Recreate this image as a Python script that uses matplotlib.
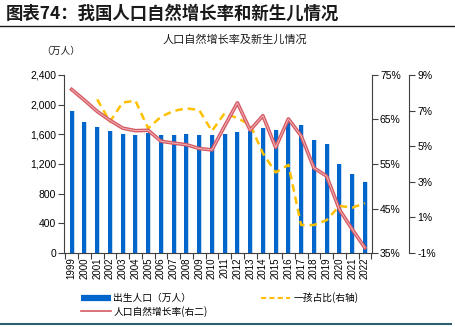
import numpy as np
import matplotlib
matplotlib.use("Agg")
import matplotlib.pyplot as plt
from matplotlib.lines import Line2D

plt.rcParams['font.family'] = ['Liberation Sans', 'Noto Sans CJK SC', 'DejaVu Sans']
cjk = ['Noto Sans CJK SC', 'DejaVu Sans']

years = [str(y) for y in range(1999, 2023)]
births = [1909, 1771, 1702, 1647, 1599, 1593, 1617, 1585, 1595, 1608, 1591, 1592,
          1604, 1635, 1640, 1687, 1655, 1786, 1723, 1523, 1465, 1202, 1062, 956]
growth = [8.18, 7.58, 6.95, 6.45, 6.01, 5.87, 5.89, 5.28, 5.17, 5.08, 4.87, 4.79,
          6.13, 7.43, 5.90, 6.71, 4.93, 6.53, 5.58, 3.78, 3.32, 1.45, 0.34, -0.70]
first_child = [np.nan, np.nan, 69.5, 64.5, 68.8, 69.2, 63.0, 65.6, 66.9, 67.5, 67.1, 62.4,
               66.4, 65.3, 63.8, 57.4, 53.1, 54.8, 41.3, 41.3, 42.4, 45.6, 45.2, 46.2]

x = np.arange(len(years))
blue = '#0066cc'
yellow = '#ffc000'
axis_col = '#404040'

fig = plt.figure(figsize=(4.56, 3.27), dpi=100)
ax = fig.add_axes([0.141, 0.226, 0.674, 0.545])

# bars with a light right edge
ax.bar(x + 0.04, births, width=0.38, color='#c2daf2', zorder=2)
ax.bar(x, births, width=0.31, color=blue, zorder=3)
ax.set_xlim(-0.58, len(years) - 0.47)
ax.set_ylim(0, 2400)
ax.set_yticks(np.arange(0, 2401, 400))
ax.set_yticklabels([f'{v:,}' for v in range(0, 2401, 400)], fontsize=7.5)
ax.set_xticks(x)
ax.set_xticklabels(years, rotation=90, fontsize=7)
ax.set_xticks(np.arange(-0.5, len(years)), minor=True)
ax.tick_params(axis='x', which='major', length=0, pad=3)
ax.tick_params(axis='x', which='minor', length=4, color=axis_col, width=0.8)
ax.tick_params(axis='y', length=4, color=axis_col, width=0.8, pad=2)
for s in ['top', 'right']:
    ax.spines[s].set_visible(False)
for s in ['left', 'bottom']:
    ax.spines[s].set_color(axis_col)
    ax.spines[s].set_linewidth(0.8)

# right axis: first child share
ax2 = ax.twinx()
ax2.plot(x, first_child, color=yellow, lw=1.8, ls=(0, (3, 2)), zorder=4)
ax2.set_ylim(35, 75)
ax2.set_yticks(range(35, 76, 10))
ax2.set_yticklabels([f'{v}%' for v in range(35, 76, 10)], fontsize=7.5)
ax2.tick_params(axis='y', length=4, color=axis_col, width=0.8, pad=2)
for s in ['top', 'left', 'bottom']:
    ax2.spines[s].set_visible(False)
ax2.spines['right'].set_color(axis_col)
ax2.spines['right'].set_linewidth(0.8)

# second right axis: natural growth rate
ax3 = ax.twinx()
ax3.spines['right'].set_position(('axes', 1.121))
ax3.plot(x, growth, color='#d45a63', lw=2.6, zorder=5)
ax3.plot(x, growth, color='#f2b3b7', lw=0.7, zorder=6)
ax3.set_ylim(-1, 9)
ax3.set_yticks(range(-1, 10, 2))
ax3.set_yticklabels([f'{v}%' for v in range(-1, 10, 2)], fontsize=7.5)
ax3.tick_params(axis='y', length=4, color=axis_col, width=0.8, pad=2)
for s in ['top', 'left', 'bottom']:
    ax3.spines[s].set_visible(False)
ax3.spines['right'].set_color(axis_col)
ax3.spines['right'].set_linewidth(0.8)

# titles
fig.text(0.012, 0.958, '图表74：我国人口自然增长率和新生儿情况', fontsize=12.5,
         fontweight='bold', color='#1a1a1a', family=cjk, va='center', ha='left')
fig.add_artist(Line2D([0, 1], [0.922, 0.922], color='#1a1a1a', lw=1))
fig.text(0.515, 0.878, '人口自然增长率及新生儿情况', fontsize=8, family=cjk,
         ha='center', va='center', color='#1a1a1a')
fig.text(0.090, 0.845, '（万人）', fontsize=7, family=cjk, ha='left', va='center',
         color='#1a1a1a')

# legend
handles = [Line2D([], [], color=blue, lw=4.5, solid_capstyle='butt'),
           Line2D([], [], color='#d45a63', lw=1.2),
           Line2D([], [], color=yellow, lw=1.5, ls=(0, (2.5, 1.5)))]
labels = ['出生人口（万人）', '人口自然增长率(右二)', '一孩占比(右轴)']
fig.legend(handles, labels, loc='lower left', bbox_to_anchor=(0.17, 0.02), ncol=2,
           frameon=False, prop={'family': cjk, 'size': 7}, handlelength=3,
           handletextpad=0.3, columnspacing=5.5, labelspacing=0.25,
           borderaxespad=0)

fig.add_artist(Line2D([0, 0.99], [0.009, 0.009], color='#2f5f6f', lw=1.5))

fig.savefig('out.png', dpi=100)
